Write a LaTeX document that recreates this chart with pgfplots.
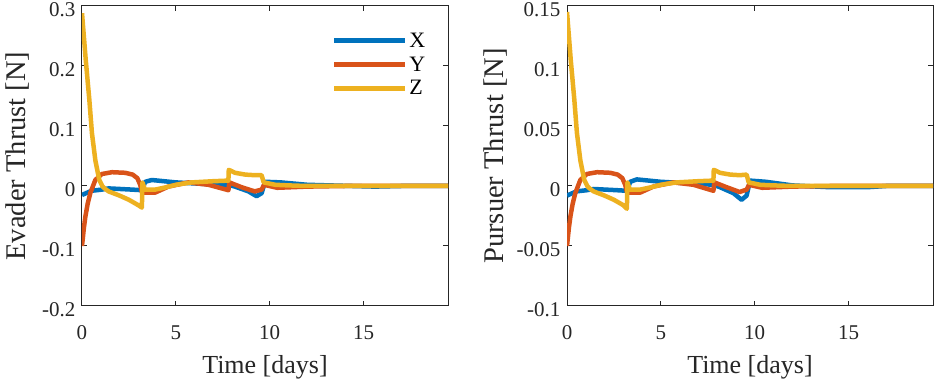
\documentclass[border=0pt]{standalone}
\usepackage{pgfplots}
\pgfplotsset{compat=1.18}
\usepackage{pgfplotstable}
\usepackage{fontspec}
\setmainfont{Liberation Serif}

\definecolor{mX}{rgb}{0,0.447,0.741}
\definecolor{mY}{rgb}{0.85,0.325,0.098}
\definecolor{mZ}{rgb}{0.929,0.694,0.125}
\definecolor{axgray}{rgb}{0.15,0.15,0.15}

% evader thrust [N] vs time [days]
\pgfplotstableread{
t v
0 -0.015
0.5 -0.008
1.06 -0.006
1.42 -0.004
2.66 -0.006
3.19 -0.007
3.37 0.007
3.72 0.010
5.0 0.006
6.74 0.003
7.8 0.002
8.15 -0.001
8.87 -0.009
9.3 -0.017
9.57 -0.012
9.75 0.007
10.6 0.006
12 0.002
15.6 -0.001
17 0
19.5 0
}\evX
\pgfplotstableread{
t v
0 -0.100
0.1 -0.070
0.18 -0.051
0.3 -0.030
0.44 -0.012
0.71 0.010
1.06 0.020
1.6 0.023
2.3 0.022
2.7 0.019
2.95 0.013
3.1 0.002
3.2 -0.011
3.9 -0.011
4.6 -0.001
5.67 0.006
6.74 0.002
7.8 -0.007
7.85 0.006
8.5 -0.002
9.2 -0.009
9.57 -0.006
9.7 0.002
10.4 -0.003
12 -0.001
14 0
19.5 0
}\evY
\pgfplotstableread{
t v
0 0.288
0.2 0.210
0.39 0.144
0.53 0.088
0.71 0.043
0.92 0.010
1.1 -0.001
1.24 -0.005
1.42 -0.009
2.0 -0.016
2.5 -0.023
3.0 -0.032
3.19 -0.036
3.22 0.006
3.35 -0.006
3.9 -0.006
4.5 -0.002
5.0 0.002
5.85 0.006
7.0 0.008
7.8 0.009
7.82 0.027
8.15 0.022
8.7 0.019
9.2 0.018
9.57 0.018
9.68 0.006
10.3 0.002
11 0.001
12 0
19.5 0
}\evZ

% pursuer thrust [N] vs time [days]
\pgfplotstableread{
t v
0 -0.0080
0.5 -0.0045
1.06 -0.0035
1.42 -0.0025
2.66 -0.0035
3.19 -0.0040
3.37 0.0035
3.72 0.0055
5.0 0.0035
6.74 0.0020
7.8 0.0010
8.15 -0.0010
8.87 -0.0060
9.3 -0.0115
9.57 -0.0080
9.75 0.0045
10.6 0.0035
12 0.0005
14 -0.0010
16 -0.0010
17 0
19.5 0
}\puX
\pgfplotstableread{
t v
0 -0.0500
0.1 -0.0350
0.18 -0.0255
0.3 -0.0150
0.44 -0.0060
0.71 0.0050
1.06 0.0100
1.6 0.0115
2.3 0.0110
2.7 0.0095
2.95 0.0065
3.1 0.0010
3.2 -0.0055
3.9 -0.0055
4.6 -0.0005
5.67 0.0030
6.74 0.0010
7.8 -0.0040
7.85 0.0030
8.5 -0.0010
9.2 -0.0050
9.57 -0.0030
9.7 0.0010
10.4 -0.0015
12 -0.0005
14 0
19.5 0
}\puY
\pgfplotstableread{
t v
0 0.145
0.2 0.105
0.39 0.072
0.53 0.044
0.71 0.0215
0.92 0.005
1.1 -0.0005
1.24 -0.0025
1.42 -0.0045
2.0 -0.008
2.5 -0.0115
3.0 -0.016
3.19 -0.019
3.22 0.003
3.35 -0.003
3.9 -0.003
4.5 -0.001
5.0 0.001
5.85 0.003
7.0 0.004
7.8 0.0045
7.82 0.0135
8.15 0.011
8.7 0.0095
9.2 0.009
9.57 0.0095
9.68 0.003
10.3 0.001
11 0.0005
12 0
19.5 0
}\puZ

\pgfplotsset{
  mstyle/.style={
    scale only axis, width=366pt, height=300pt,
    xmin=0, xmax=19.5, xtick={0,5,10,15},
    axis line style={axgray, line width=1pt},
    tick style={axgray, line width=1pt},
    tick align=inside, major tick length=5pt,
    every tick label/.append style={font=\rmfamily\fontsize{21}{21}\selectfont, text=axgray},
    xticklabel={\pgfmathprintnumber[assume math mode=true]{\tick}},
    yticklabel={\pgfmathprintnumber[assume math mode=true, fixed]{\tick}},
    xticklabel style={yshift=-16pt},
    yticklabel style={xshift=-3pt, yshift=-3.5pt},
    xlabel style={font=\rmfamily\fontsize{26}{26}\selectfont, text=axgray, yshift=-9pt},
    xlabel={Time [days]},
    every axis plot/.append style={line width=4.5pt, no markers, line join=round},
  },
}

\begin{document}
\begin{tikzpicture}
\path[use as bounding box] (-82pt,-76pt) rectangle ++(937pt,382pt);
\begin{axis}[mstyle, name=lft,
    ymin=-0.2, ymax=0.3, ytick={-0.2,-0.1,0,0.1,0.2,0.3},
    ylabel={Evader Thrust [N]},
    every axis y label/.style={at={([xshift=-80pt]axis description cs:0,0.5)}, rotate=90, anchor=north,
      font=\rmfamily\fontsize{28.5}{28.5}\selectfont, text=axgray},
    legend style={draw=none, fill=none, at={(0.952,0.925)}, anchor=north east,
      font=\rmfamily\fontsize{22}{22}\selectfont, row sep=4pt},
    legend cell align=left,
    legend image code/.code={\draw[#1] (0pt,0pt) -- (71pt,0pt);},
  ]
\addplot[mX] table[x=t, y=v] {\evX};
\addplot[mY] table[x=t, y=v] {\evY};
\addplot[mZ] table[x=t, y=v] {\evZ};
\legend{X, Y, Z}
\end{axis}
\begin{axis}[mstyle, at={(485pt,0pt)},
    ymin=-0.1, ymax=0.15, ytick={-0.1,-0.05,0,0.05,0.1,0.15},
    ylabel={Pursuer Thrust [N]},
    every axis y label/.style={at={([xshift=-87pt]axis description cs:0,0.5)}, rotate=90, anchor=north,
      font=\rmfamily\fontsize{28.5}{28.5}\selectfont, text=axgray},
  ]
\addplot[mX] table[x=t, y=v] {\puX};
\addplot[mY] table[x=t, y=v] {\puY};
\addplot[mZ] table[x=t, y=v] {\puZ};
\end{axis}
\end{tikzpicture}
\end{document}
